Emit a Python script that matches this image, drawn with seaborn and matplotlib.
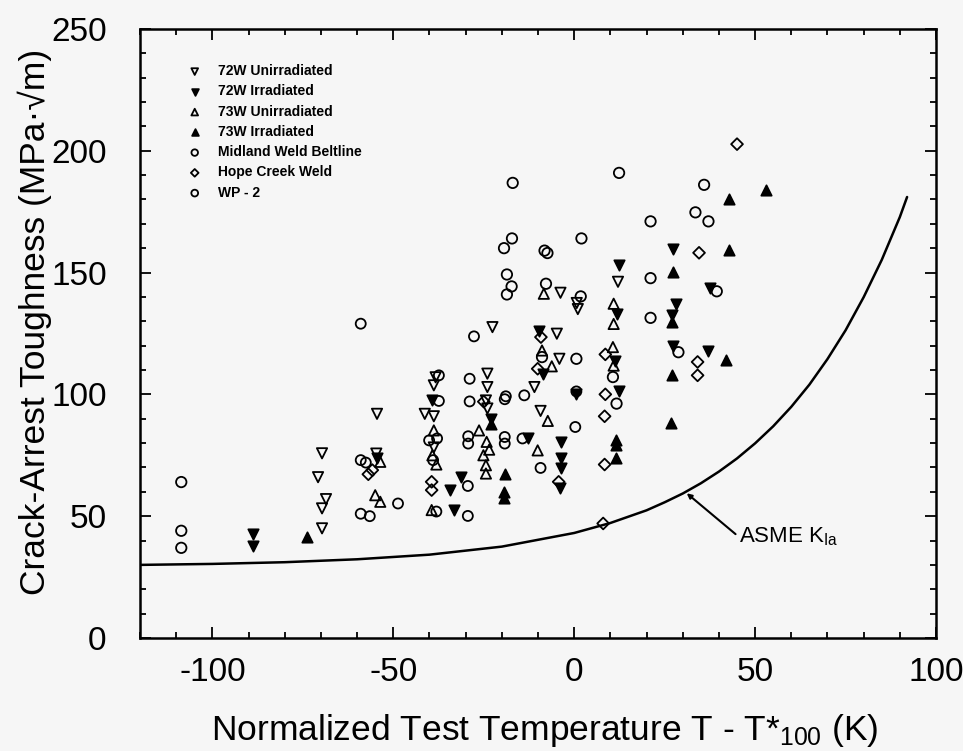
import pandas as pd
import matplotlib.pyplot as plt
from matplotlib.ticker import MultipleLocator
import seaborn as sns

# --- data ---
# 72W Unirradiated (open down triangles)
u72_t = [-69.7, -70.8, -68.6, -69.7, -69.7, -54.5, -54.7, -41.3, -38.8, -38.3, -38.8, -38.8,
         -24.0, -24.0, -24.4, -24.0, -22.6, -11.0, -9.3, -4.8, -3.8, -4.1, 0.7, 1.0, 12.1]
u72_k = [75.8, 66.0, 57.0, 53.2, 45.0, 92.0, 75.7, 92.0, 91.0, 107.0, 103.7, 78.2,
         108.5, 103.0, 97.5, 94.2, 127.6, 103.0, 93.2, 124.9, 141.7, 114.6, 137.5, 135.0, 146.2]
# 72W Irradiated (filled down triangles)
i72_t = [-88.9, -88.9, -54.5, -39.2, -34.2, -31.2, -33.2, -23.0, -12.9, -9.6, -8.7,
         -3.6, -3.6, -3.6, -3.8, 0.6, 12.3, 11.9, 11.2, 12.3, 27.4, 28.2, 27.1, 27.4, 37.6, 37.1]
i72_k = [42.6, 37.7, 74.0, 97.5, 60.7, 66.1, 52.5, 90.0, 81.9, 126.0, 108.5,
         80.5, 73.7, 69.6, 61.4, 100.0, 153.2, 132.8, 113.7, 101.4, 159.7, 137.2, 132.5, 119.7, 143.7, 117.8]
# 73W Unirradiated (open up triangles)
u73_t = [-53.6, -55.0, -53.6, -39.2, -38.1, -39.4, -38.8, -26.3, -24.2, -23.5, -25.1, -24.4, -24.4,
         -10.1, -7.3, -8.4, -8.9, -6.2, 10.9, 10.9, 10.7, 10.9]
u73_k = [72.3, 58.6, 55.9, 75.0, 71.2, 52.5, 85.2, 85.2, 80.5, 77.3, 75.0, 70.9, 67.5,
         77.0, 89.1, 141.3, 118.0, 111.5, 137.2, 128.9, 119.4, 111.8]
# 73W Irradiated (filled up triangles)
i73_t = [-73.9, -23.0, -19.2, -19.4, -19.4, 11.5, 11.5, 11.5, 27.2, 27.1, 26.9, 26.8,
         42.9, 52.9, 42.9, 42.0]
i73_k = [41.4, 88.0, 67.2, 60.0, 57.3, 81.1, 79.1, 73.7, 150.2, 129.5, 107.8, 88.3,
         180.0, 184.0, 159.4, 113.9]
# Midland Weld Beltline (circles)
mid_t = [-59.0, -59.0, -57.6, -59.0, -56.5, -48.7, -37.4, -37.4, -40.1, -37.9, -39.0, -38.1,
         -28.9, -28.9, -29.3, -29.3, -29.4, -29.4, -27.7, -18.9, -19.2, -13.8, -19.2, -19.2,
         -14.3, -9.3, 0.3, 0.6]
mid_k = [129.0, 73.0, 72.0, 51.0, 50.0, 55.2, 107.8, 97.3, 81.1, 81.9, 73.0, 51.9,
         106.4, 97.1, 82.8, 79.8, 62.4, 50.1, 123.8, 99.2, 98.0, 99.6, 82.5, 79.8,
         81.9, 69.8, 86.6, 101.2]
# Hope Creek Weld (diamonds)
hope_t = [-56.9, -55.8, -39.4, -39.4, -25.0, -10.1, -9.2, -4.3, 8.6, 8.6, 8.4, 8.4, 8.0,
          34.5, 34.1, 34.1, 45.0]
hope_k = [67.2, 68.9, 64.1, 60.7, 97.0, 110.5, 123.5, 64.1, 116.4, 100.0, 91.0, 71.2, 47.0,
          158.1, 113.3, 107.8, 202.7]
# WP - 2 (circles)
wp2_t = [-108.6, -108.6, -108.6, -17.0, 12.4, 2.0, -17.2, -19.4, -8.2, -7.4, -18.6, -17.3, -18.6,
         -7.8, 1.8, -8.9, 0.6, 21.1, 21.1, 21.1, 10.7, 11.7, 35.9, 33.5, 37.1, 39.4, 28.8]
wp2_k = [64.0, 44.0, 37.0, 186.8, 190.9, 164.0, 164.0, 160.0, 159.0, 158.0, 149.2, 144.3, 141.0,
         145.4, 140.2, 115.3, 114.6, 171.0, 147.7, 131.4, 107.1, 96.2, 186.0, 174.7, 171.0, 142.3, 117.3]

# ASME K_Ia reference curve
kia_t = [-120, -100, -80, -60, -40, -20, 0, 10, 20, 25, 30, 35, 40, 45, 50, 55, 60, 65, 70,
         75, 80, 85, 90, 92]
kia_k = [30.0, 30.4, 31.1, 32.3, 34.2, 37.5, 43.1, 47.2, 52.4, 55.7, 59.3, 63.5, 68.3, 73.7,
         79.9, 86.9, 94.9, 104.0, 114.5, 126.3, 139.9, 155.2, 172.8, 181.0]

series = [
    ('72W Unirradiated', u72_t, u72_k, 'v', 'none', 55),
    ('72W Irradiated', i72_t, i72_k, 'v', 'black', 55),
    ('73W Unirradiated', u73_t, u73_k, '^', 'none', 55),
    ('73W Irradiated', i73_t, i73_k, '^', 'black', 55),
    ('Midland Weld Beltline', mid_t, mid_k, 'o', 'none', 52),
    ('Hope Creek Weld', hope_t, hope_k, 'D', 'none', 36),
    ('WP - 2', wp2_t, wp2_k, 'o', 'none', 56),
]

sns.set_style('ticks')
bg = '#f6f6f6'
plt.rcParams['font.family'] = ['Liberation Sans', 'DejaVu Sans']
plt.rcParams['mathtext.fontset'] = 'custom'
plt.rcParams['mathtext.rm'] = 'Liberation Sans'
plt.rcParams['mathtext.it'] = 'Liberation Sans:italic'
plt.rcParams['axes.unicode_minus'] = False
for key in ['text.color', 'axes.labelcolor', 'xtick.color', 'ytick.color']:
    plt.rcParams[key] = 'black'

fig = plt.figure(figsize=(9.63, 7.51), dpi=100, facecolor=bg)
ax = fig.add_axes([0.1454, 0.1505, 0.8266, 0.811], facecolor=bg)

for name, t, k, mk, fc, sz in series:
    df = pd.DataFrame({'T': t, 'K': k})
    sns.scatterplot(data=df, x='T', y='K', marker=mk, s=sz, facecolor=fc,
                    edgecolor='black', linewidth=1.3, label=name, ax=ax)

curve = pd.DataFrame({'T': kia_t, 'K': kia_k})
sns.lineplot(data=curve, x='T', y='K', color='black', lw=1.8, estimator=None, ax=ax)

ax.annotate('ASME K$_{\\mathrm{Ia}}$', xy=(31.1, 59.4), xytext=(45.5, 41.5),
            fontsize=16, va='center', ha='left', color='black',
            arrowprops=dict(arrowstyle='-|>', color='black', lw=1.5, mutation_scale=7,
                            shrinkA=0, shrinkB=0, relpos=(0, 0.5)))

ax.set_xlim(-120, 100)
ax.set_ylim(0, 250)
ax.xaxis.set_major_locator(MultipleLocator(50))
ax.xaxis.set_minor_locator(MultipleLocator(10))
ax.yaxis.set_major_locator(MultipleLocator(50))
ax.yaxis.set_minor_locator(MultipleLocator(10))
ax.tick_params(which='both', direction='in', top=True, right=True, width=1.3, color='black',
               labelcolor='black')
ax.tick_params(which='major', length=8, labelsize=24)
ax.tick_params(which='minor', length=4)
ax.tick_params(axis='x', pad=14)
ax.tick_params(axis='y', pad=24)
for sp in ax.spines.values():
    sp.set_linewidth(1.8)
    sp.set_color('black')

ax.set_xlabel('Normalized Test Temperature T - T*$_{\\mathrm{100}}$ (K)', fontsize=25.5)
ax.set_ylabel('Crack-Arrest Toughness (MPa\u00b7\u221am)', fontsize=25.5)
ax.xaxis.set_label_coords(0.509, -0.122)
ax.yaxis.set_label_coords(-0.11, 0.519)

leg = ax.legend(loc='upper left', bbox_to_anchor=(0.06, 0.942), frameon=False,
                prop={'weight': 'bold', 'size': 10}, borderaxespad=0, borderpad=0,
                handlelength=1.0, handletextpad=1.2, labelspacing=0.45, markerscale=0.65)

fig.savefig('out.png', dpi=100, facecolor=bg)
